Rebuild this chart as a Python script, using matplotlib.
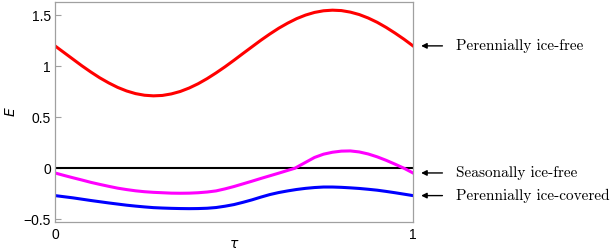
import numpy as np
import matplotlib
matplotlib.use("Agg")
import matplotlib.pyplot as plt

# time over one period
tau = [0.0, 0.025, 0.05, 0.075, 0.10, 0.125, 0.15, 0.175, 0.20, 0.225,
       0.25, 0.275, 0.30, 0.325, 0.35, 0.375, 0.40, 0.425, 0.45, 0.475,
       0.50, 0.525, 0.55, 0.575, 0.60, 0.625, 0.65, 0.675, 0.70, 0.725,
       0.75, 0.775, 0.80, 0.825, 0.85, 0.875, 0.90, 0.925, 0.95, 0.975, 1.0]

# perennially ice-free branch
E_free = [1.200, 1.135, 1.070, 1.005, 0.944, 0.887, 0.837, 0.793, 0.758, 0.732,
          0.716, 0.710, 0.714, 0.729, 0.753, 0.787, 0.829, 0.879, 0.935, 0.995,
          1.059, 1.125, 1.190, 1.255, 1.316, 1.373, 1.423, 1.467, 1.502, 1.528,
          1.544, 1.550, 1.546, 1.531, 1.507, 1.473, 1.431, 1.381, 1.325, 1.265,
          1.200]

# seasonally ice-free branch (kink where it crosses zero)
tau_seas = [0.0, 0.025, 0.05, 0.075, 0.10, 0.125, 0.15, 0.175, 0.20, 0.225,
            0.25, 0.275, 0.30, 0.325, 0.35, 0.375, 0.40, 0.425, 0.45, 0.475,
            0.50, 0.525, 0.55, 0.575, 0.60, 0.625, 0.65, 0.67, 0.70, 0.725,
            0.75, 0.775, 0.80, 0.825, 0.85, 0.875, 0.90, 0.925, 0.95, 0.975, 1.0]
E_seas = [-0.046, -0.070, -0.093, -0.115, -0.138, -0.158, -0.177, -0.195, -0.209,
          -0.221, -0.230, -0.236, -0.240, -0.244, -0.245, -0.244, -0.240, -0.233,
          -0.222, -0.202, -0.179, -0.153, -0.127, -0.100, -0.074, -0.048, -0.021,
          0.000, 0.058, 0.106, 0.138, 0.157, 0.168, 0.170, 0.160, 0.140, 0.112,
          0.078, 0.040, 0.000, -0.046]

# perennially ice-covered branch
E_cov = [-0.268, -0.279, -0.290, -0.303, -0.316, -0.328, -0.340, -0.351, -0.362,
         -0.371, -0.379, -0.386, -0.390, -0.393, -0.395, -0.396, -0.395, -0.392,
         -0.385, -0.372, -0.356, -0.334, -0.310, -0.283, -0.258, -0.238, -0.222,
         -0.208, -0.197, -0.189, -0.184, -0.184, -0.187, -0.192, -0.198, -0.206,
         -0.215, -0.227, -0.240, -0.254, -0.268]

labels = ["Perennially ice-free", "Seasonally ice-free", "Perennially ice-covered"]
label_E = [E_free[-1], E_seas[-1], E_cov[-1]]

fig = plt.figure(figsize=(6.13, 2.52), dpi=100)
ax = fig.add_axes([0.0897, 0.119, 0.584, 0.873])

ax.axhline(0, color="black", lw=1.5)
ax.plot(tau, E_free, color="#ff0000", lw=2.2)
ax.plot(tau_seas, E_seas, color="#ff00ff", lw=2.2)
ax.plot(tau, E_cov, color="#0000ff", lw=2.2)

ax.set_xlim(0, 1)
ax.set_ylim(-0.527, 1.63)
ax.set_xticks([0, 1])
ax.set_xticklabels(["0", "1"])
ax.set_yticks([-0.5, 0, 0.5, 1, 1.5])
ax.set_yticklabels(["\u22120.5", "0", "0.5", "1", "1.5"])
ax.tick_params(direction="in", length=4, color="#a0a0a0", labelsize=10, pad=3)
ax.tick_params(axis="x", length=0, pad=4)
for lab in ax.get_xticklabels() + ax.get_yticklabels():
    lab.set_family(["Liberation Sans", "DejaVu Sans"])
for s in ax.spines.values():
    s.set_color("#a0a0a0")
    s.set_linewidth(0.9)

ax.set_xlabel("$\\tau$", fontsize=10, labelpad=-3)
ax.set_ylabel("$E$", fontsize=10, labelpad=4)

for lab, e in zip(labels, label_E):
    ax.annotate("", xy=(1.015, e), xytext=(1.09, e), xycoords="data",
                arrowprops=dict(arrowstyle="-|>", color="black", lw=1.0,
                                mutation_scale=8), annotation_clip=False)
    ax.text(1.12, e, lab, family="cmr10", fontsize=11, va="center", ha="left",
            transform=ax.transData, clip_on=False)

fig.savefig("out.png", dpi=100)
